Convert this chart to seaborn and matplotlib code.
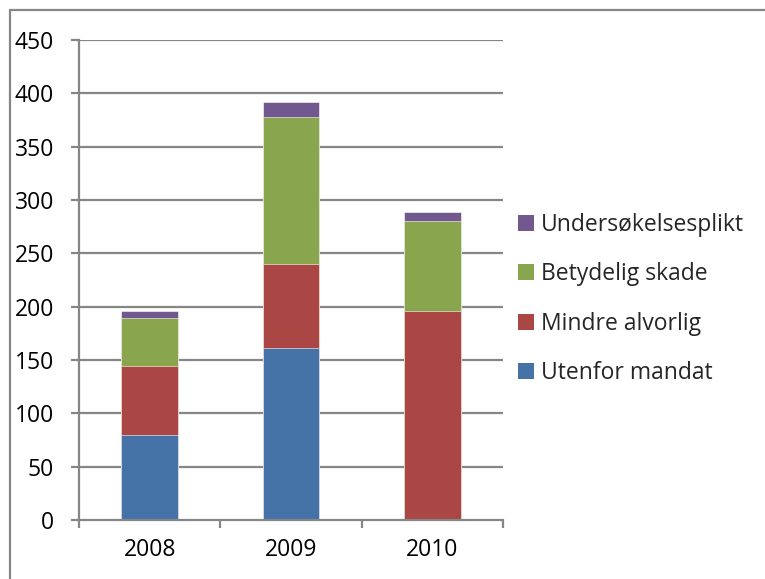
import matplotlib
matplotlib.use("Agg")
import matplotlib.pyplot as plt
from matplotlib.lines import Line2D
from matplotlib.patches import Patch
import seaborn as sns
import pandas as pd
import numpy as np

years = ["2008", "2009", "2010"]
series = ["Utenfor mandat", "Mindre alvorlig", "Betydelig skade", "Undersøkelsesplikt"]
utenfor = [80, 161, 0]
mindre = [64, 79, 196]
betydelig = [45, 138, 84]
undersokelse = [7, 14, 9]
colors = ["#4572A7", "#AA4643", "#89A54E", "#71588F"]
yticks = list(range(0, 451, 50))

sns.set_theme(style="white")
plt.rcParams["font.family"] = ["Open Sans", "DejaVu Sans"]

values = [utenfor, mindre, betydelig, undersokelse]
df = pd.DataFrame({"year": years})
cum = np.zeros(len(years))
cum_cols = []
for name, vals in zip(series, values):
    cum = cum + np.array(vals)
    df[name] = cum
    cum_cols.append(name)

fig = plt.figure(figsize=(7.65, 5.79), dpi=100)
ax = fig.add_axes([79 / 765, 1 - 520 / 579, (503 - 79) / 765, (520 - 40) / 579])

grid_c = "#868686"
for y in yticks[1:]:
    ax.axhline(y, color=grid_c, lw=1.6, zorder=0)

# draw cumulative totals from top to bottom so lower series overlay
for name, col in reversed(list(zip(cum_cols, colors))):
    sns.barplot(data=df, x="year", y=name, color=col, width=0.4, ax=ax,
                saturation=1, edgecolor="white", linewidth=0.4, zorder=2)

ax.set_ylim(0, 450)
ax.set_xlim(-0.5, 2.5)
ax.set_yticks(yticks)
ax.set_xlabel("")
ax.set_ylabel("")
for s in ["top", "right"]:
    ax.spines[s].set_visible(False)
for s in ["left", "bottom"]:
    ax.spines[s].set_color(grid_c)
    ax.spines[s].set_linewidth(1.6)
ax.tick_params(axis="y", which="major", direction="out", length=6, width=1.6,
               color=grid_c, labelsize=16.5, pad=12, left=True, labelcolor="black")
ax.tick_params(axis="x", which="major", length=0, labelsize=16.5, pad=13, labelcolor="black")
ax.set_xticks([-0.5, 0.5, 1.5, 2.5], minor=True)
ax.tick_params(axis="x", which="minor", direction="out", length=6, width=1.6,
               color=grid_c, bottom=True)

handles = [Patch(facecolor=c, edgecolor="none") for c in colors]
leg = fig.legend(handles[::-1], series[::-1], loc="center left",
                 bbox_to_anchor=(518 / 765, 1 - 299 / 579), frameon=False,
                 fontsize=16.5, handlelength=0.7, handleheight=0.7,
                 handletextpad=0.3, labelspacing=1.1, borderpad=0, borderaxespad=0)

fig.add_artist(Line2D([10 / 765, 1], [1 - 10 / 579, 1 - 10 / 579], color=grid_c, lw=1.6,
                      transform=fig.transFigure))
fig.add_artist(Line2D([10 / 765, 10 / 765], [0, 1 - 10 / 579], color=grid_c, lw=1.6,
                      transform=fig.transFigure))

fig.savefig("out.png", dpi=100, facecolor="white")
